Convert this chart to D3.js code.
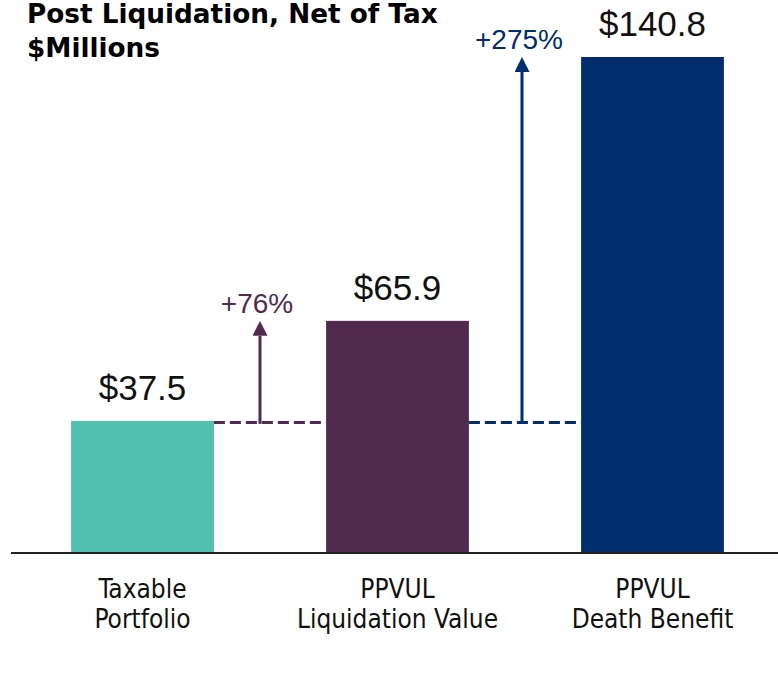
<!DOCTYPE html>
<html>
<head>
<meta charset="utf-8">
<script src="https://cdn.jsdelivr.net/npm/d3@7"></script>
<style>
  body { margin: 0; background: #fff; }
  .title { font-family: "DejaVu Sans", sans-serif; font-weight: bold; font-size: 26.3px; fill: #000; }
  .value { font-family: "Liberation Sans", Arial, sans-serif; font-size: 35px; fill: #111; }
  .cat { font-family: "DejaVu Sans Condensed", "DejaVu Sans", sans-serif; font-size: 26px; fill: #111; }
  .pct { font-family: "Liberation Sans", Arial, sans-serif; font-size: 28px; }
</style>
</head>
<body>
<div id="chart"></div>
<script>
var categories = [["Taxable", "Portfolio"], ["PPVUL", "Liquidation Value"], ["PPVUL", "Death Benefit"]];
var values = [37.5, 65.9, 140.8];
var valueLabels = ["$37.5", "$65.9", "$140.8"];
var colors = ["#52bfaf", "#522a50", "#002d6e"];
// growth arrows: from bar 0 level up to bar i
var growth = [
  {from: 0, to: 1, label: "+76%"},
  {from: 0, to: 2, label: "+275%"}
];

var width = 778, height = 674;
var baseline = 553;
var arrowShift = [-10, -3];

var svg = d3.select("#chart").append("svg")
    .attr("width", width)
    .attr("height", height);

var x = d3.scaleBand()
    .domain(d3.range(values.length))
    .range([15, 780])
    .paddingInner(0.44)
    .paddingOuter(0.22);

var y = d3.scaleLinear()
    .domain([0, 140.8])
    .range([baseline, 57]);

// title
svg.append("text").attr("class", "title").attr("x", 27).attr("y", 23).text("Post Liquidation, Net of Tax");
svg.append("text").attr("class", "title").attr("x", 27).attr("y", 57).text("$Millions");

var defs = svg.append("defs");
growth.forEach(function(g, i) {
  defs.append("marker")
      .attr("id", "arrow" + i)
      .attr("viewBox", "0 0 10 10")
      .attr("refX", 0).attr("refY", 5)
      .attr("markerWidth", 5).attr("markerHeight", 5)
      .attr("markerUnits", "strokeWidth")
      .attr("orient", "auto")
    .append("path")
      .attr("d", "M0,0L10,5L0,10Z")
      .attr("fill", colors[g.to]);
});

// bars
svg.selectAll(".bar")
    .data(values)
  .enter().append("rect")
    .attr("class", "bar")
    .attr("x", function(d, i) { return x(i); })
    .attr("y", function(d) { return y(d); })
    .attr("width", x.bandwidth())
    .attr("height", function(d) { return baseline - y(d); })
    .attr("fill", function(d, i) { return colors[i]; });

// value labels
svg.selectAll(".value")
    .data(values)
  .enter().append("text")
    .attr("class", "value")
    .attr("x", function(d, i) { return x(i) + x.bandwidth() / 2; })
    .attr("y", function(d) { return y(d) - 21; })
    .attr("text-anchor", "middle")
    .text(function(d, i) { return valueLabels[i]; });

// dashed reference lines + arrows
growth.forEach(function(g, i) {
  var x0 = x(g.to - 1) + x.bandwidth();
  var x1 = x(g.to);
  var ly = y(values[g.from]) + 1.5;
  var ax = (x0 + x1) / 2 + arrowShift[i];
  var tip = y(values[g.to]);
  svg.append("line")
      .attr("x1", x0).attr("x2", x1)
      .attr("y1", ly).attr("y2", ly)
      .attr("stroke", colors[g.to])
      .attr("stroke-width", 3)
      .attr("stroke-dasharray", "11,5");
  svg.append("line")
      .attr("x1", ax).attr("x2", ax)
      .attr("y1", ly + 1.5).attr("y2", tip + 15)
      .attr("stroke", colors[g.to])
      .attr("stroke-width", 3)
      .attr("marker-end", "url(#arrow" + i + ")");
  svg.append("text")
      .attr("class", "pct")
      .attr("x", ax - 3)
      .attr("y", tip - 8)
      .attr("text-anchor", "middle")
      .attr("fill", colors[g.to])
      .text(g.label);
});

// baseline
svg.append("line")
    .attr("x1", 11).attr("x2", width)
    .attr("y1", baseline).attr("y2", baseline)
    .attr("stroke", "#222")
    .attr("stroke-width", 2);

// category labels
var cat = svg.selectAll(".cat")
    .data(categories)
  .enter().append("text")
    .attr("class", "cat")
    .attr("text-anchor", "middle")
    .attr("x", function(d, i) { return x(i) + x.bandwidth() / 2; })
    .attr("y", 598);
cat.selectAll("tspan")
    .data(function(d) { return d; })
  .enter().append("tspan")
    .attr("x", function() { return d3.select(this.parentNode).attr("x"); })
    .attr("dy", function(d, j) { return j ? 30 : 0; })
    .text(function(d) { return d; });
</script>
</body>
</html>
